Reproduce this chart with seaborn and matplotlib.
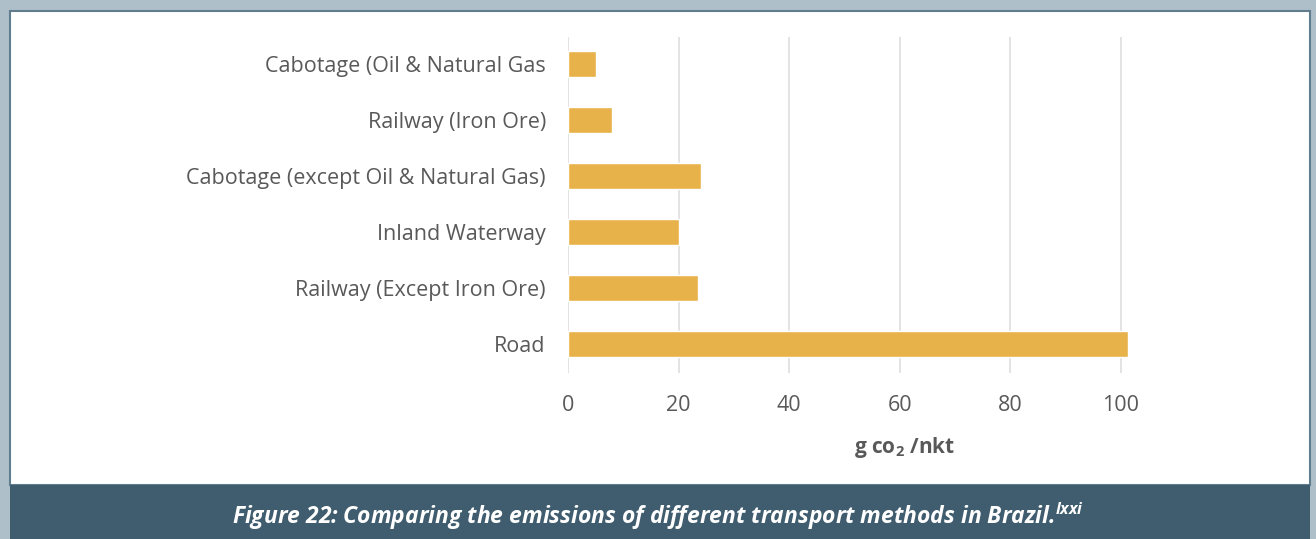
import matplotlib
matplotlib.use("Agg")
import matplotlib.pyplot as plt
import seaborn as sns
import pandas as pd
from matplotlib.patches import Rectangle

# data (g CO2 per nkt)
methods = ["Cabotage (Oil & Natural Gas", "Railway (Iron Ore)",
           "Cabotage (except Oil & Natural Gas)", "Inland Waterway",
           "Railway (Except Iron Ore)", "Road"]
emissions = [5, 8, 24, 20, 23.5, 101.3]
ticks = [0, 20, 40, 60, 80, 100]

df = pd.DataFrame({"method": methods, "emissions": emissions})

sns.set_style("white")
plt.rcParams["font.family"] = ["Open Sans", "DejaVu Sans"]
plt.rcParams["mathtext.default"] = "regular"

fig = plt.figure(figsize=(13.16, 5.39), dpi=100, facecolor="#aebfca")

# white panel and caption bar
fig.patches.append(Rectangle((10 / 1316, 54 / 539), 1300 / 1316, 474 / 539,
                             transform=fig.transFigure, facecolor="white",
                             edgecolor="#5f7d8c", linewidth=1.5, zorder=0))
fig.patches.append(Rectangle((10 / 1316, 0), 1300 / 1316, 54 / 539,
                             transform=fig.transFigure, facecolor="#3f5d6e",
                             edgecolor="none", zorder=1))

ax = fig.add_axes([568 / 1316, 166 / 539, 575 / 1316, 336 / 539])
ax.set_zorder(5)
ax.set_facecolor("none")
sns.barplot(data=df, x="emissions", y="method", orient="h", color="#e8b24a",
            saturation=1, width=0.47, ax=ax, zorder=3)

ax.set_xlim(0, 104)
ax.set_ylim(5.52, -0.48)
ax.set_xticks(ticks)
ax.grid(axis="x", color="#e0e0e0", linewidth=1.3, zorder=0)
ax.grid(axis="y", visible=False)
ax.set_axisbelow(True)
sns.despine(ax=ax, left=True, bottom=True)
ax.tick_params(axis="both", length=0, colors="#595959", labelsize=15.5)
ax.tick_params(axis="y", pad=16)
ax.tick_params(axis="x", pad=16)
ax.set_xlabel("")
ax.set_ylabel("")

fig.text(905 / 1316, 1 - 448 / 539, "g co$_2$ /nkt", ha="center", va="center",
         fontsize=15, fontweight="bold", color="#595959", zorder=6)
fig.text(0.5, 1 - 516 / 539,
         "Figure 22: Comparing the emissions of different transport methods in Brazil.$^{lxxi}$",
         ha="center", va="center", fontsize=16.5, fontweight="bold",
         fontstyle="italic", color="white", zorder=6)

fig.savefig("out.png", dpi=100, facecolor=fig.get_facecolor())
